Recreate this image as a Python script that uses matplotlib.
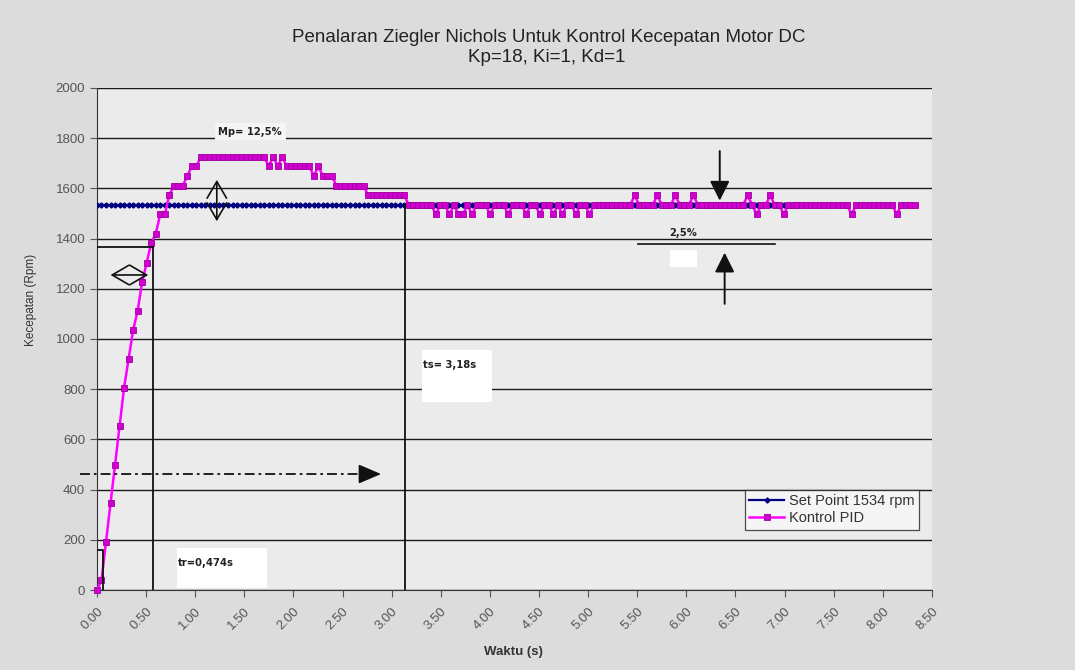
import numpy as np
import matplotlib.pyplot as plt
from matplotlib.patches import Rectangle

plt.rcParams['font.family'] = ['Liberation Sans', 'DejaVu Sans']

# motor speed samples (rpm), one every dt seconds
dt = 0.046
pid_rpm = [
    0, 38, 192, 345, 499, 652, 806, 920, 1035, 1112,
    1227, 1304, 1381, 1419, 1496, 1496, 1572, 1611, 1611, 1611,
    1649, 1688, 1688, 1726, 1726, 1726, 1726, 1726, 1726, 1726,
    1726, 1726, 1726, 1726, 1726, 1726, 1726, 1726, 1688, 1726,
    1688, 1726, 1688, 1688, 1688, 1688, 1688, 1688, 1649, 1688,
    1649, 1649, 1649, 1611, 1611, 1611, 1611, 1611, 1611, 1611,
    1572, 1572, 1572, 1572, 1572, 1572, 1572, 1572, 1572, 1534,
    1534, 1534, 1534, 1534, 1534, 1496, 1534, 1534, 1496, 1534,
    1496, 1496, 1534, 1496, 1534, 1534, 1534, 1496, 1534, 1534,
    1534, 1496, 1534, 1534, 1534, 1496, 1534, 1534, 1496, 1534,
    1534, 1496, 1534, 1496, 1534, 1534, 1496, 1534, 1534, 1496,
    1534, 1534, 1534, 1534, 1534, 1534, 1534, 1534, 1534, 1572,
    1534, 1534, 1534, 1534, 1572, 1534, 1534, 1534, 1572, 1534,
    1534, 1534, 1572, 1534, 1534, 1534, 1534, 1534, 1534, 1534,
    1534, 1534, 1534, 1534, 1572, 1534, 1496, 1534, 1534, 1572,
    1534, 1534, 1496, 1534, 1534, 1534, 1534, 1534, 1534, 1534,
    1534, 1534, 1534, 1534, 1534, 1534, 1534, 1496, 1534, 1534,
    1534, 1534, 1534, 1534, 1534, 1534, 1534, 1496, 1534, 1534,
    1534, 1534,
]
setpoint_rpm = 1534
setpoint_samples = 156

x_ticks = np.arange(0, 8.51, 0.5)
y_ticks = np.arange(0, 2001, 200)

t = np.arange(len(pid_rpm)) * dt
t_sp = t[:setpoint_samples]
sp = np.full(setpoint_samples, setpoint_rpm)

fig = plt.figure(figsize=(10.75, 6.7), dpi=100, facecolor='#dcdcdc')
ax = fig.add_axes([0.0902, 0.1194, 0.7767, 0.7493], facecolor='#ebebeb')

ax.set_xlim(0, 8.5)
ax.set_ylim(0, 2000)
ax.set_yticks(y_ticks)
ax.set_xticks(x_ticks)
ax.set_xticklabels([f'{v:.2f}' for v in x_ticks], rotation=45, ha='right',
                   va='top', rotation_mode='anchor')
ax.tick_params(axis='both', labelsize=9.5, labelcolor='#555555', color='#555555', length=5)
ax.tick_params(axis='x', pad=6)
ax.yaxis.grid(True, color='#1a1a1a', lw=1.0)
ax.set_axisbelow(True)
for s in ('top', 'right'):
    ax.spines[s].set_visible(False)
ax.spines['left'].set_color('#333333')
ax.spines['bottom'].set_color('#333333')

ax.plot(t_sp, sp, color='#000080', lw=1.6, marker='D', ms=2.6, mfc='#000080',
        mec='#000080', label='Set Point 1534 rpm', zorder=3)
ax.plot(t, pid_rpm, color='#ff00ff', lw=1.8, marker='s', ms=4, mfc='#d000d0',
        mec='#a000a0', mew=0.6, label='Kontrol PID', zorder=4, clip_on=False)

# rise time / settling time guides
ink = '#111111'
ax.plot([0, 0.575], [1365, 1365], color=ink, lw=1.3, zorder=5)
ax.plot([0.575, 0.575], [0, 1365], color=ink, lw=1.3, zorder=5)
ax.plot([0.064, 0.064, 0], [0, 159, 159], color=ink, lw=1.3, zorder=5)
ax.plot([3.14, 3.14], [0, setpoint_rpm], color=ink, lw=1.3, zorder=5)

note = dict(fontsize=8, fontweight='bold', fontstretch='condensed', color='#222222',
            family=['DejaVu Sans'])
ax.add_patch(Rectangle((0.815, 8), 0.92, 159, facecolor='white', edgecolor='none', zorder=6))
ax.text(0.82, 107, 'tr=0,474s', ha='left', va='center', zorder=7, **note)
ax.add_patch(Rectangle((3.31, 749), 0.71, 207, facecolor='white', edgecolor='none', zorder=6))
ax.text(3.32, 896, 'ts= 3,18s', ha='left', va='center', zorder=7, **note)
ax.text(1.56, 1826, 'Mp= 12,5%', ha='center', va='center', zorder=7,
        bbox=dict(facecolor='#f5f5f5', edgecolor='none', pad=2.5), **note)

# overshoot and rise arrows
ax.annotate('', xy=(1.22, 1645), xytext=(1.22, 1458),
            arrowprops=dict(arrowstyle='<->,head_length=0.6,head_width=0.35',
                            lw=1.2, color=ink, mutation_scale=20), zorder=6)
ax.annotate('', xy=(0.11, 1255), xytext=(0.55, 1255),
            arrowprops=dict(arrowstyle='<->,head_length=0.6,head_width=0.35',
                            lw=1.2, color=ink, mutation_scale=20), zorder=6)

# dash-dot pointer at 30 % of the set point
ax.plot([-0.17, 2.78], [462, 462], color=ink, lw=1.3, ls=(0, (5.5, 2.2, 1.5, 2.2)),
        clip_on=False, zorder=6)
ax.annotate('', xy=(2.92, 462), xytext=(2.76, 462),
            arrowprops=dict(arrowstyle='-|>,head_length=0.7,head_width=0.3',
                            lw=1.2, color=ink, mutation_scale=20), zorder=6)

# 2.5 % tolerance band markers
ax.annotate('', xy=(6.34, 1540), xytext=(6.34, 1760),
            arrowprops=dict(arrowstyle='-|>,head_length=0.6,head_width=0.3',
                            lw=1.4, color=ink, mutation_scale=20), zorder=6)
ax.annotate('', xy=(6.39, 1355), xytext=(6.39, 1129),
            arrowprops=dict(arrowstyle='-|>,head_length=0.6,head_width=0.3',
                            lw=1.4, color=ink, mutation_scale=20), zorder=6)
ax.plot([5.51, 6.90], [1380, 1380], color=ink, lw=1.2, zorder=5)
ax.text(5.97, 1402, '2,5%', ha='center', va='bottom', zorder=7, **note)
ax.add_patch(Rectangle((5.83, 1287), 0.28, 68, facecolor='white', edgecolor='none', zorder=6))

leg = ax.legend(loc='upper left', bbox_to_anchor=(745 / 1075, 1 - 490 / 670),
                bbox_transform=fig.transFigure, borderaxespad=0, fontsize=10.5,
                fancybox=False, frameon=True, handlelength=2.4, handletextpad=0.3,
                borderpad=0.3, labelspacing=0.2)
leg.get_frame().set_edgecolor('#222222')
leg.get_frame().set_facecolor('#f8f8f8')
leg.get_frame().set_linewidth(0.9)
for txt in leg.get_texts():
    txt.set_color('#333333')

fig.text(549 / 1075, 1 - 38 / 670, 'Penalaran Ziegler Nichols Untuk Kontrol Kecepatan Motor DC',
         ha='center', va='center', fontsize=13.5, color='#222222')
fig.text(547 / 1075, 1 - 58 / 670, 'Kp=18, Ki=1, Kd=1',
         ha='center', va='center', fontsize=13.5, color='#222222')
fig.text(31 / 1075, 1 - 300 / 670, 'Kecepatan (Rpm)', rotation=90, ha='center', va='center',
         fontsize=8.5, color='#333333')
fig.text(513 / 1075, 1 - 652 / 670, 'Waktu (s)', ha='center', va='center',
         fontsize=9.5, fontweight='bold', color='#333333')

fig.savefig('out.png', dpi=100, facecolor=fig.get_facecolor())
